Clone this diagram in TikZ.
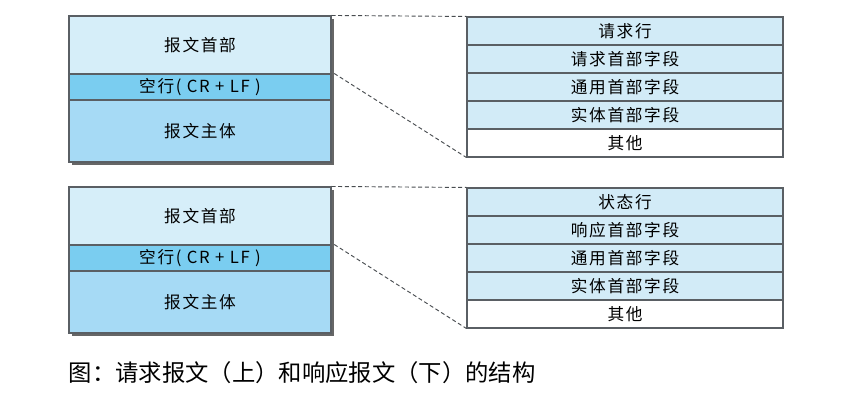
\documentclass[tikz,border=0pt]{standalone}
\usepackage{fontspec}
\setmainfont{Noto Sans CJK SC}
\newfontfamily\spacedcjk[LetterSpace=10]{Noto Sans CJK SC}
\usetikzlibrary{positioning}
\definecolor{headblue}{RGB}{214, 238, 249}
\definecolor{blankblue}{RGB}{122, 205, 240}
\definecolor{bodyblue}{RGB}{166, 218, 245}
\definecolor{rowblue}{RGB}{210, 235, 247}
\definecolor{edgegray}{RGB}{90, 95, 100}

\begin{document}
\begin{tikzpicture}[x=0.75pt, y=-0.75pt,
    part/.style={draw=edgegray, line width=0.8pt, minimum width=196.5pt, inner sep=0pt, font=\spacedcjk\fontsize{12.5}{14}\selectfont},
    row/.style={draw=edgegray, line width=0.8pt, minimum width=237pt, minimum height=21pt, inner sep=0pt, fill=rowblue, font=\spacedcjk\fontsize{12.5}{14}\selectfont},
    zoomline/.style={dash pattern=on 3pt off 2pt, edgegray!80!black, line width=0.7pt}]
  \useasboundingbox (0,0) rectangle (861,413);
  \foreach \pre/\off/\first/\second in {req/0/请求行/请求首部字段, res/171/状态行/响应首部字段}{
    % message on the left, with its shadow
    \fill[gray!80!black] (72,19+\off) rectangle (334,165+\off);
    \node[part, fill=headblue, minimum height=43.5pt] (\pre head) at (200,45+\off) {报文首部};
    \node[part, fill=blankblue, minimum height=19.5pt] (\pre blank) at (200,87+\off) {空行(\ CR\ +\ LF\ )};
    \node[part, fill=bodyblue, minimum height=46.5pt] (\pre body) at (200,131+\off) {报文主体};
    % header fields on the right
    \foreach \label [count=\i] in {\first, \second, 通用首部字段, 实体首部字段}
      \node[row] (\pre row\i) at (625,3+28*\i+\off) {\label};
    \node[row, fill=white] (\pre row5) at (625,143+\off) {其他};
    % zoom lines
    \draw[zoomline] (\pre head.north east) -- (\pre row1.north west);
    \draw[zoomline] ([xshift=2pt]\pre blank.north east) -- (\pre row5.south west);
  }
  \node[anchor=west, font=\fontsize{17.5}{20}\selectfont] (caption) at (64,373) {图：请求报文（上）和响应报文（下）的结构};
\end{tikzpicture}
\end{document}
